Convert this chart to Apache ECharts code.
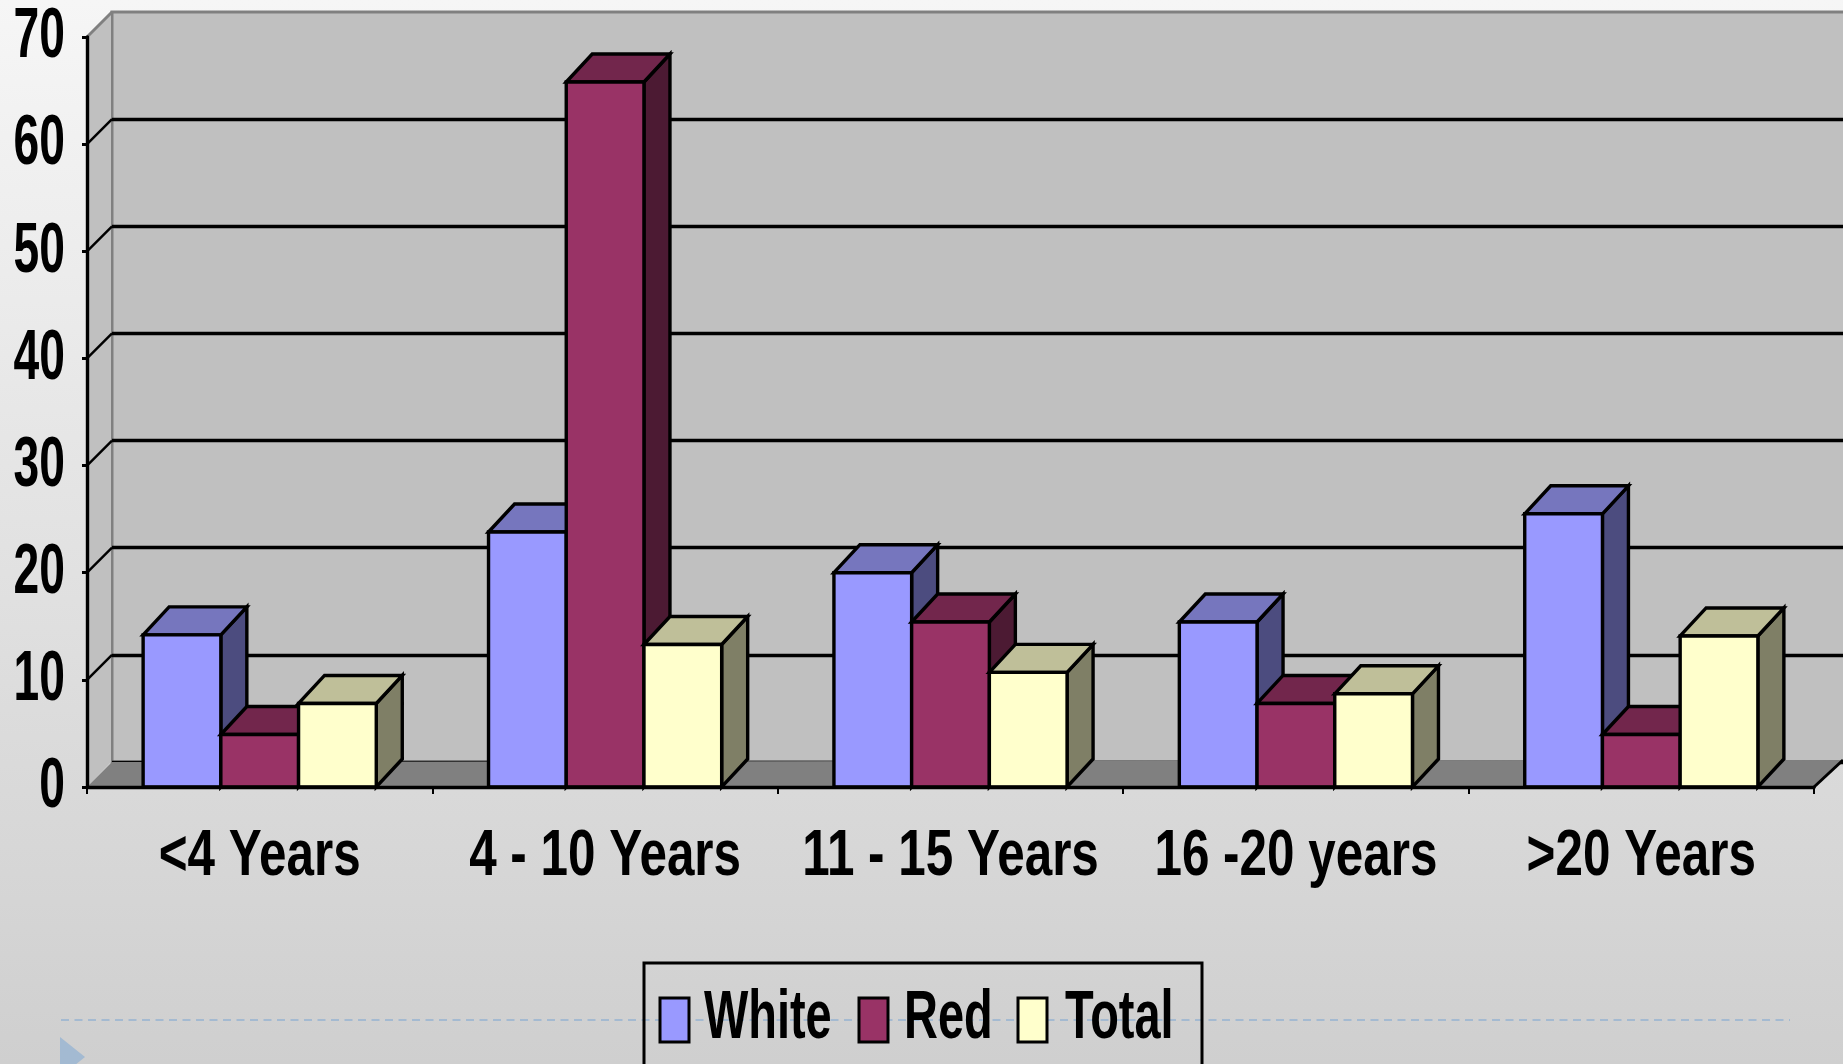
<!DOCTYPE html>
<html>
<head>
<meta charset="utf-8">
<script src="https://cdn.jsdelivr.net/npm/echarts@6/dist/echarts.min.js"></script>
<style>
  html, body { margin: 0; padding: 0; }
  #chart { width: 1843px; height: 1064px; }
</style>
</head>
<body>
<div id="chart"></div>
<script>
// Length of service groups and the three measured series
const categories = ['<4 Years', '4 - 10 Years', '11 - 15 Years', '16 -20 years', '>20 Years'];
const whiteValues = [14.2, 23.8, 20.0, 15.4, 25.5];
const redValues = [4.9, 65.8, 15.4, 7.8, 4.9];
const totalValues = [7.8, 13.3, 10.7, 8.7, 14.1];
const yTicks = [0, 10, 20, 30, 40, 50, 60, 70];
const seriesNames = ['White', 'Red', 'Total'];

// Face shades for the extruded columns: front, top, side
const shades = [
  { front: '#9999ff', top: '#7676be', side: '#4c4c7f' },
  { front: '#993366', top: '#72264c', side: '#4c1a33' },
  { front: '#ffffcc', top: '#bfbf99', side: '#7f7f66' }
];

const FONT = "'Liberation Sans', Arial, sans-serif";
const BAR_DX = 26, BAR_DY = 28;   // column depth offset
const WALL_DX = 25, WALL_DY = 25; // back wall offset
const Y_MAX = yTicks[yTicks.length - 1];

// Draws one extruded column: side, top, then front face
function barRenderer(slot, shade) {
  return function (params, api) {
    const ci = api.value(0);
    const v = api.value(1);
    const base = api.coord([ci, 0]);
    const tip = api.coord([ci, v]);
    const band = api.size([1, 0])[0];
    const w = band * 0.225;
    const x0 = base[0] - 1.5 * w + slot * w;
    const x1 = x0 + w;
    const yb = base[1];
    const yt = tip[1];
    const edge = { stroke: '#000', lineWidth: 3.4, lineJoin: 'miter' };
    return {
      type: 'group',
      children: [
        {
          type: 'polygon',
          shape: { points: [[x1, yt], [x1 + BAR_DX, yt - BAR_DY], [x1 + BAR_DX, yb - BAR_DY], [x1, yb]] },
          style: Object.assign({ fill: shade.side }, edge)
        },
        {
          type: 'polygon',
          shape: { points: [[x0, yt], [x0 + BAR_DX, yt - BAR_DY], [x1 + BAR_DX, yt - BAR_DY], [x1, yt]] },
          style: Object.assign({ fill: shade.top }, edge)
        },
        {
          type: 'rect',
          shape: { x: x0, y: yt, width: w, height: yb - yt },
          style: Object.assign({ fill: shade.front }, edge)
        }
      ]
    };
  };
}

// Side wall, floor and the short gridline stubs that join the front axis to the back wall
function frameRenderer(params, api) {
  const cs = params.coordSys;
  const v = api.value(1);
  const y = api.coord([0, v])[1];
  const left = cs.x;
  const right = cs.x + cs.width;
  const bottom = cs.y + cs.height;
  const children = [];
  if (params.dataIndex === 0) {
    children.push({
      type: 'polygon',
      shape: { points: [[left, bottom], [left, cs.y], [left + WALL_DX - 1, cs.y - WALL_DY], [left + WALL_DX - 1, bottom - WALL_DY]] },
      style: { fill: '#c0c0c0' }
    });
    children.push({
      type: 'polygon',
      shape: { points: [[left, bottom], [right, bottom], [right + WALL_DX + 4, bottom - WALL_DY - 2], [left + WALL_DX, bottom - WALL_DY]] },
      style: { fill: '#808080' }
    });
    children.push({
      type: 'line',
      shape: { x1: right, y1: bottom, x2: right + WALL_DX + 4, y2: bottom - WALL_DY - 2 },
      style: { stroke: '#000', lineWidth: 3 }
    });
  } else {
    children.push({
      type: 'line',
      shape: { x1: left, y1: y, x2: left + WALL_DX, y2: y - WALL_DY },
      style: { stroke: v === Y_MAX ? '#808080' : '#000', lineWidth: v === Y_MAX ? 3 : 2.5 }
    });
  }
  return { type: 'group', children: children };
}

// Value labels beside the front axis, in a tall condensed face
function yLabelRenderer(params, api) {
  const cs = params.coordSys;
  const y = api.coord([0, api.value(1)])[1];
  return {
    type: 'text',
    x: cs.x - 22,
    y: y + 1,
    scaleX: 0.66,
    style: {
      text: String(yTicks[params.dataIndex]),
      font: 'bold 70px ' + FONT,
      fill: '#000',
      align: 'right',
      verticalAlign: 'middle'
    }
  };
}

// Category names centred under each group
function xLabelRenderer(params, api) {
  const p = api.coord([api.value(0), 0]);
  return {
    type: 'text',
    x: p[0],
    y: p[1] + 70,
    scaleX: 0.76,
    style: {
      text: categories[params.dataIndex],
      font: 'bold 65px ' + FONT,
      fill: '#000',
      align: 'center',
      verticalAlign: 'middle'
    }
  };
}

const valueSets = [whiteValues, redValues, totalValues];
const barSeries = valueSets.map(function (vals, s) {
  return {
    name: seriesNames[s],
    type: 'custom',
    xAxisIndex: 0,
    yAxisIndex: 0,
    itemStyle: { color: shades[s].front },
    renderItem: barRenderer(s, shades[s]),
    encode: { x: 0, y: 1 },
    data: vals.map(function (v, i) { return [i, v]; })
  };
});

// Legend: bordered box with square swatches and condensed names
const legendItems = [
  { swatchX: 660, textX: 704 },
  { swatchX: 859, textX: 904 },
  { swatchX: 1018, textX: 1065 }
];
const legendGraphics = [
  {
    type: 'rect', z: 5,
    shape: { x: 644, y: 963, width: 558, height: 140 },
    style: { fill: 'none', stroke: '#000', lineWidth: 3 }
  }
];
legendItems.forEach(function (it, i) {
  legendGraphics.push({
    type: 'rect', z: 5,
    shape: { x: it.swatchX, y: 998, width: 29, height: 44 },
    style: { fill: shades[i].front, stroke: '#000', lineWidth: 3 }
  });
  legendGraphics.push({
    type: 'text', z: 5,
    x: it.textX, y: 1019,
    scaleX: 0.69,
    style: {
      text: seriesNames[i],
      font: 'bold 68px ' + FONT,
      fill: '#000',
      align: 'left',
      verticalAlign: 'middle'
    }
  });
});

const backLineColors = yTicks.map(function (t) { return t === Y_MAX ? 'rgba(0,0,0,0)' : '#000'; });

const chart = echarts.init(document.getElementById('chart'));
chart.setOption({
  animation: false,
  backgroundColor: new echarts.graphic.LinearGradient(0, 0, 0, 1, [
    { offset: 0, color: '#f6f6f6' },
    { offset: 1, color: '#cfcfcf' }
  ]),
  grid: [
    { left: 87, right: 29, top: 37, bottom: 277, outerBoundsMode: 'none' },
    {
      left: 112, right: -4, top: 12, bottom: 302, outerBoundsMode: 'none',
      show: true, backgroundColor: '#c0c0c0', borderColor: '#808080', borderWidth: 3
    }
  ],
  graphic: [
    {
      type: 'line', z: 1,
      shape: { x1: 61, y1: 1020, x2: 1790, y2: 1020 },
      style: { stroke: '#a4bad1', lineWidth: 2, lineDash: [8, 5.5] }
    },
    {
      type: 'polygon', z: 1,
      shape: { points: [[60, 1037], [85, 1057], [60, 1077]] },
      style: { fill: '#a3bad2' }
    }
  ].concat(legendGraphics),
  xAxis: [
    {
      type: 'category',
      gridIndex: 0,
      data: categories,
      z: 10,
      axisLine: { show: true, lineStyle: { color: '#000', width: 3.4 } },
      axisTick: { show: true, length: 7, lineStyle: { color: '#000', width: 2 } },
      axisLabel: { show: false }
    },
    { type: 'category', gridIndex: 1, data: categories, show: false }
  ],
  yAxis: [
    {
      type: 'value',
      gridIndex: 0,
      min: 0, max: Y_MAX, interval: 10,
      z: 10,
      axisLine: { show: true, lineStyle: { color: '#000', width: 3.4 } },
      axisTick: { show: true, length: 5, lineStyle: { color: '#000', width: 3 } },
      splitLine: { show: false },
      axisLabel: { show: false }
    },
    {
      type: 'value',
      gridIndex: 1,
      min: 0, max: Y_MAX, interval: 10,
      axisLine: { show: false },
      axisTick: { show: false },
      axisLabel: { show: false },
      splitLine: { show: true, lineStyle: { color: backLineColors, width: 3.4 } }
    }
  ],
  series: [
    {
      name: 'frame',
      type: 'custom',
      xAxisIndex: 0,
      yAxisIndex: 0,
      silent: true,
      renderItem: frameRenderer,
      encode: { x: 0, y: 1 },
      data: yTicks.map(function (t) { return [0, t]; })
    },
    {
      name: 'valueLabels',
      type: 'custom',
      xAxisIndex: 0,
      yAxisIndex: 0,
      silent: true,
      z: 10,
      renderItem: yLabelRenderer,
      encode: { x: 0, y: 1 },
      data: yTicks.map(function (t) { return [0, t]; })
    },
    {
      name: 'categoryLabels',
      type: 'custom',
      xAxisIndex: 0,
      yAxisIndex: 0,
      silent: true,
      z: 10,
      renderItem: xLabelRenderer,
      encode: { x: 0, y: 1 },
      data: categories.map(function (c, i) { return [i, 0]; })
    }
  ].concat(barSeries)
});
</script>
</body>
</html>
